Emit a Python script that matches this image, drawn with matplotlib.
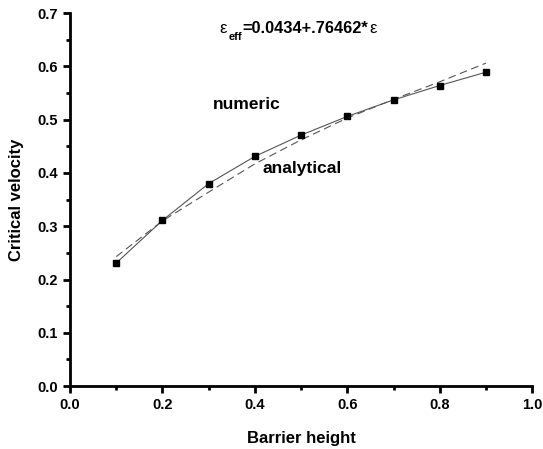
import numpy as np
import matplotlib
matplotlib.use("Agg")
from matplotlib import pyplot as plt
from matplotlib.ticker import MultipleLocator

# numeric results (squares joined by a thin line)
barrier = [0.1, 0.2, 0.3, 0.4, 0.5, 0.6, 0.7, 0.8, 0.9]
v_numeric = [0.231, 0.311, 0.380, 0.431, 0.471, 0.506, 0.537, 0.564, 0.589]

# analytical curve (dashed)
barrier_an = [0.1, 0.2, 0.3, 0.4, 0.5, 0.6, 0.7, 0.8, 0.9]
v_analytical = [0.243, 0.310, 0.364, 0.417, 0.462, 0.503, 0.538, 0.571, 0.606]

plt.rcParams['font.family'] = ['Liberation Sans', 'DejaVu Sans']
plt.rcParams['font.weight'] = 'bold'

fig = plt.figure(figsize=(5.43, 4.49), dpi=100)
ax = fig.add_axes([0.129, 0.140, 0.851, 0.831])

ax.plot(barrier_an, v_analytical, color='#555555', lw=0.8, ls=(0, (7, 4)))
ax.plot(barrier, v_numeric, color='#555555', lw=0.8, marker='s', ms=4,
        mfc='black', mec='black')

ax.set_xlim(0.0, 1.0)
ax.set_ylim(0.0, 0.7)
ax.xaxis.set_major_locator(MultipleLocator(0.2))
ax.xaxis.set_minor_locator(MultipleLocator(0.1))
ax.yaxis.set_major_locator(MultipleLocator(0.1))
ax.yaxis.set_minor_locator(MultipleLocator(0.05))
ax.xaxis.set_major_formatter(matplotlib.ticker.FormatStrFormatter('%.1f'))
ax.yaxis.set_major_formatter(matplotlib.ticker.FormatStrFormatter('%.1f'))

for s in ['top', 'right']:
    ax.spines[s].set_visible(False)
for s in ['left', 'bottom']:
    ax.spines[s].set_linewidth(2)

ax.tick_params(which='major', direction='out', length=5, width=2, labelsize=10.5)
ax.tick_params(which='minor', direction='out', length=3, width=2)

ax.set_xlabel('Barrier height', fontsize=12, fontweight='bold', labelpad=14)
ax.set_ylabel('Critical velocity', fontsize=12, fontweight='bold', labelpad=10)

# formula: epsilon_eff = ...
ax.text(0.324, 0.662, 'ε', fontsize=12, fontweight='normal')
ax.text(0.343, 0.650, 'eff', fontsize=8, fontweight='bold')
ax.text(0.374, 0.662, '=0.0434+.76462*', fontsize=11.8, fontweight='bold')
ax.text(0.648, 0.662, 'ε', fontsize=12, fontweight='normal')

ax.text(0.31, 0.52, 'numeric', fontsize=12.5, fontweight='bold')
ax.text(0.417, 0.4, 'analytical', fontsize=12.5, fontweight='bold')

fig.savefig('out.png', dpi=100)
